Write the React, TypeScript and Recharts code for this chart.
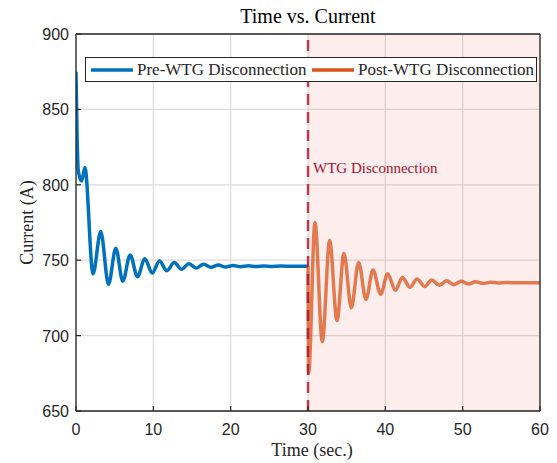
import React from 'react';
import {
  CartesianGrid,
  ComposedChart,
  Legend,
  Line,
  ReferenceArea,
  ReferenceLine,
  XAxis,
  YAxis,
} from 'recharts';

// current before the turbine drops out (t in seconds, A)
const preTime = [
  0, 0.12, 0.3, 0.72, 1.15, 2.2, 3.2, 4.2, 5.15, 6.05, 7.0, 7.95, 8.9, 9.85, 10.8, 11.75, 12.7,
  13.65, 14.6, 15.55, 16.5, 17.45, 18.4, 19.35, 20.3, 21.3, 22.3, 23.3, 24.3, 25.3, 26.5, 28, 30,
];
const preCurrent = [
  875, 838, 809, 802.5, 811.5, 741, 769, 734, 758, 736, 753.5, 739, 751, 741.5, 749.5, 743, 748.4,
  744, 747.7, 744.8, 747.3, 745.3, 746.8, 745.5, 746.5, 745.7, 746.3, 745.8, 746.2, 745.9, 746.1, 746, 746,
];

// current after the disconnection
const postTime = [
  30, 30.08, 30.9, 31.85, 32.8, 33.75, 34.65, 35.6, 36.55, 37.5, 38.4, 39.4, 40.3, 41.3, 42.2, 43.2,
  44.1, 45.1, 46.0, 47.0, 47.9, 48.85, 49.8, 50.75, 51.7, 52.7, 53.6, 54.6, 55.6, 57, 60,
];
const postCurrent = [
  746, 675, 775, 696, 763, 710, 754.5, 718.5, 748.5, 724, 743.5, 727.5, 741, 730, 738.6, 732,
  737.5, 732.5, 736.8, 733.4, 736.4, 733.8, 736, 734.3, 735.7, 734.6, 735.4, 734.9, 735.2, 735, 735,
];

const seriesNames = ['Pre-WTG Disconnection', 'Post-WTG Disconnection'];
const xTicks = [0, 10, 20, 30, 40, 50, 60];
const yTicks = [650, 700, 750, 800, 850, 900];
const disconnectAt = 30;

const preData = preTime.map((t, i) => ({ time: t, current: preCurrent[i] }));
const postData = postTime.map((t, i) => ({ time: t, current: postCurrent[i] }));

const INK = '#262626';
const SANS = '"Liberation Sans", Arial, sans-serif';
const SERIF = '"Liberation Serif", "Times New Roman", serif';
const TICK_LEN = 5;

function BottomTick({ x, y, payload }: any) {
  return (
    <g>
      <line x1={x} x2={x} y1={y} y2={y - TICK_LEN} stroke={INK} strokeWidth={1.2} />
      <text x={x} y={y + 24} textAnchor="middle" fontFamily={SANS} fontSize={16} fill={INK}>
        {payload.value}
      </text>
    </g>
  );
}

function TopTick({ x, y }: any) {
  return <line x1={x} x2={x} y1={y} y2={y + TICK_LEN} stroke={INK} strokeWidth={1.2} />;
}

function LeftTick({ x, y, payload }: any) {
  return (
    <g>
      <line x1={x} x2={x + TICK_LEN} y1={y} y2={y} stroke={INK} strokeWidth={1.2} />
      <text x={x - 7} y={y + 6} textAnchor="end" fontFamily={SANS} fontSize={16} fill={INK}>
        {payload.value}
      </text>
    </g>
  );
}

function RightTick({ x, y }: any) {
  return <line x1={x} x2={x - TICK_LEN} y1={y} y2={y} stroke={INK} strokeWidth={1.2} />;
}

function LegendBox({ payload }: any) {
  // legend sorts by name on its own, keep plotting order instead
  const items = [...(payload || [])].sort(
    (a: any, b: any) => seriesNames.indexOf(a.value) - seriesNames.indexOf(b.value),
  );
  return (
    <div
      style={{
        display: 'flex',
        alignItems: 'center',
        boxSizing: 'border-box',
        width: 452,
        height: 25,
        border: `1.3px solid ${INK}`,
        background: '#fff',
        paddingLeft: 5,
        fontFamily: SERIF,
        fontSize: 17,
        color: INK,
        whiteSpace: 'nowrap',
      }}
    >
      {items.map((p: any, i: number) => (
        <div key={i} style={{ display: 'flex', alignItems: 'center', width: i === 0 ? 221 : 'auto' }}>
          <svg width={42} height={6} style={{ marginRight: 4 }}>
            <line x1={0} x2={42} y1={3} y2={3} stroke={p.color} strokeWidth={3.5} />
          </svg>
          <span>{p.value}</span>
        </div>
      ))}
    </div>
  );
}

export default function App() {
  return (
    <div style={{ position: 'absolute', left: 0, top: 0, background: '#fff' }}>
      <ComposedChart width={557} height={463} margin={{ top: 33, right: 16, bottom: 0, left: 0 }}>
        <CartesianGrid stroke="#dcdcdc" strokeWidth={1.2} />
        <XAxis
          type="number"
          dataKey="time"
          domain={[0, 60]}
          ticks={xTicks}
          interval={0}
          height={52}
          tickSize={0}
          tickMargin={0}
          tickLine={false}
          tick={<BottomTick />}
          axisLine={{ stroke: INK, strokeWidth: 1.3 }}
          allowDataOverflow
          label={(p: any) => {
            const vb = p.viewBox;
            return (
              <text
                x={vb.x + vb.width / 2 + 4}
                y={vb.y + 45}
                textAnchor="middle"
                fontFamily={SERIF}
                fontSize={18}
                fill={INK}
              >
                Time (sec.)
              </text>
            );
          }}
        />
        <XAxis
          xAxisId="top"
          orientation="top"
          type="number"
          domain={[0, 60]}
          ticks={xTicks}
          interval={0}
          height={1}
          tickSize={0}
          tickMargin={0}
          tickLine={false}
          tick={<TopTick />}
          axisLine={{ stroke: INK, strokeWidth: 1.3 }}
          label={(p: any) => {
            const vb = p.viewBox;
            return (
              <text
                x={vb.x + vb.width / 2}
                y={vb.y - 10}
                textAnchor="middle"
                fontFamily={SERIF}
                fontSize={20}
                fill="#000"
              >
                Time vs.  Current
              </text>
            );
          }}
        />
        <YAxis
          type="number"
          domain={[650, 900]}
          ticks={yTicks}
          interval={0}
          width={76}
          tickSize={0}
          tickMargin={0}
          tickLine={false}
          tick={<LeftTick />}
          axisLine={{ stroke: INK, strokeWidth: 1.3 }}
          allowDataOverflow
          label={(p: any) => {
            const vb = p.viewBox;
            const cx = vb.x + 33;
            const cy = vb.y + vb.height / 2;
            return (
              <text
                x={cx}
                y={cy}
                transform={`rotate(-90 ${cx} ${cy})`}
                textAnchor="middle"
                fontFamily={SERIF}
                fontSize={18}
                fill={INK}
              >
                Current (A)
              </text>
            );
          }}
        />
        <YAxis
          yAxisId="right"
          orientation="right"
          type="number"
          domain={[650, 900]}
          ticks={yTicks}
          interval={0}
          width={1}
          tickSize={0}
          tickMargin={0}
          tickLine={false}
          tick={<RightTick />}
          axisLine={{ stroke: INK, strokeWidth: 1.3 }}
        />
        <ReferenceArea
          x1={disconnectAt}
          x2={60}
          y1={650}
          y2={900}
          fill="#ee3b3b"
          fillOpacity={0.09}
          stroke="none"
        />
        <Line
          data={preData}
          dataKey="current"
          name={seriesNames[0]}
          type="monotone"
          stroke="#0072BD"
          strokeWidth={3.5}
          dot={false}
          activeDot={false}
          isAnimationActive={false}
        />
        <Line
          data={postData}
          dataKey="current"
          name={seriesNames[1]}
          type="monotone"
          stroke="#D95319"
          strokeOpacity={0.75}
          strokeWidth={3.5}
          dot={false}
          activeDot={false}
          isAnimationActive={false}
        />
        <ReferenceLine
          x={disconnectAt}
          stroke="#A2142F"
          strokeOpacity={0.8}
          strokeWidth={2.5}
          strokeDasharray="11 7"
          label={(p: any) => {
            const vb = p.viewBox;
            return (
              <text x={vb.x + 5} y={vb.y + 139} fontFamily={SERIF} fontSize={15} fill="#A2142F">
                WTG Disconnection
              </text>
            );
          }}
        />
        <Legend
          verticalAlign="middle"
          layout="horizontal"
          content={<LegendBox />}
          wrapperStyle={{ position: 'absolute', left: 85, top: 57, width: 452, height: 25 }}
        />
      </ComposedChart>
    </div>
  );
}
